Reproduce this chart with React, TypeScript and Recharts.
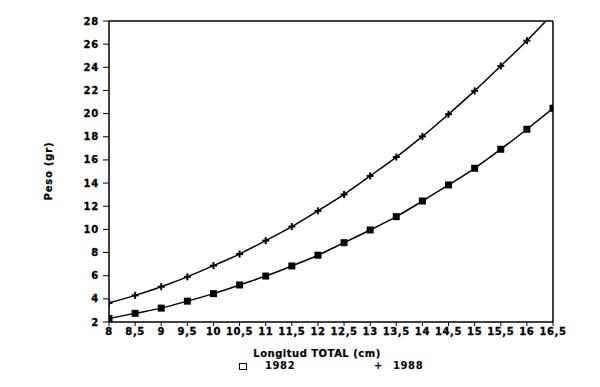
import React from 'react';
import { LineChart, Line, XAxis, YAxis, ReferenceLine } from 'recharts';

const longitudes = [8, 8.5, 9, 9.5, 10, 10.5, 11, 11.5, 12, 12.5, 13, 13.5, 14, 14.5, 15, 15.5, 16, 16.5];
const peso1982 = [2.3, 2.75, 3.2, 3.8, 4.45, 5.2, 5.97, 6.84, 7.77, 8.85, 9.95, 11.1, 12.45, 13.84, 15.28, 16.92, 18.65, 20.46];
const peso1988 = [3.65, 4.3, 5.05, 5.9, 6.87, 7.87, 9.03, 10.24, 11.6, 13.02, 14.62, 16.25, 18.03, 19.95, 21.96, 24.12, 26.3, 28.65];
const yTicks = [2, 4, 6, 8, 10, 12, 14, 16, 18, 20, 22, 24, 26, 28];
const xTicks = longitudes;
const seriesNames = ['1982', '1988'];

const data = longitudes.map((x, i) => ({ x, a: peso1982[i], b: peso1988[i] }));

const FONT = '"DejaVu Sans", sans-serif';
const fmt = (v: number) => String(v).replace('.', ',');

const SquareDot = (props: any) => {
  const { cx, cy } = props;
  if (cx == null || cy == null) return null;
  return <rect x={cx - 3.5} y={cy - 3.5} width={7} height={7} fill="#000" />;
};

const PlusDot = (props: any) => {
  const { cx, cy } = props;
  if (cx == null || cy == null) return null;
  return (
    <g>
      <line x1={cx - 3.5} y1={cy} x2={cx + 3.5} y2={cy} stroke="#000" strokeWidth={2} />
      <line x1={cx} y1={cy - 3.5} x2={cx} y2={cy + 3.5} stroke="#000" strokeWidth={2} />
    </g>
  );
};

const XTick = (props: any) => {
  const { x, y, payload } = props;
  return (
    <text x={x} y={y} dy="0.71em" textAnchor="middle" fontFamily={FONT} fontWeight="bold" fontSize={10} letterSpacing={0.6} fill="#000" stroke="#000" strokeWidth={0.3}>
      {fmt(payload.value)}
    </text>
  );
};

const YTick = (props: any) => {
  const { x, y, payload } = props;
  return (
    <text x={x} y={y} dy="0.355em" textAnchor="end" fontFamily={FONT} fontWeight="bold" fontSize={10} letterSpacing={0.8} fill="#000" stroke="#000" strokeWidth={0.3}>
      {payload.value}
    </text>
  );
};

export default function App() {
  return (
    <div style={{ position: 'absolute', left: 0, top: 0, width: 600, height: 387, background: '#fff' }}>
      <LineChart width={600} height={387} data={data} margin={{ top: 21, right: 47, bottom: 39, left: 0 }}>
        <XAxis
          dataKey="x"
          type="number"
          domain={[8, 16.5]}
          ticks={xTicks}
          interval={0}
          tickSize={4}
          tickMargin={2}
          height={26}
          tick={<XTick />}
          axisLine={{ stroke: '#000', strokeWidth: 1.5 }}
          tickLine={{ stroke: '#000', strokeWidth: 1 }}
          allowDataOverflow
          label={{
            content: () => (
              <text x={317} y={357} textAnchor="middle" fontFamily={FONT} fontWeight="bold" fontSize={10} letterSpacing={0.5} fill="#000" stroke="#000" strokeWidth={0.2}>
                Longitud TOTAL (cm)
              </text>
            ),
          }}
        />
        <YAxis
          type="number"
          domain={[2, 28]}
          ticks={yTicks}
          interval={0}
          width={109}
          tickSize={6}
          tickMargin={4}
          tick={<YTick />}
          axisLine={{ stroke: '#000', strokeWidth: 1.5 }}
          tickLine={{ stroke: '#000', strokeWidth: 1 }}
          allowDataOverflow
          label={{
            content: () => (
              <text x={52} y={171} transform="rotate(-90 52 171)" textAnchor="middle" fontFamily={FONT} fontWeight="bold" fontSize={10} letterSpacing={0.8} fill="#000" stroke="#000" strokeWidth={0.2}>
                Peso (gr)
              </text>
            ),
          }}
        />
        <ReferenceLine y={28} stroke="#000" strokeWidth={1.5} />
        <ReferenceLine x={16.5} stroke="#000" strokeWidth={1.5} />
        <Line
          name={seriesNames[0]}
          dataKey="a"
          type="monotone"
          stroke="#000"
          strokeWidth={1.5}
          dot={<SquareDot />}
          isAnimationActive={false}
        />
        <Line
          name={seriesNames[1]}
          dataKey="b"
          type="monotone"
          stroke="#000"
          strokeWidth={1.5}
          dot={<PlusDot />}
          isAnimationActive={false}
        />
      </LineChart>
      <div style={{ position: 'absolute', left: 239, top: 360, fontFamily: FONT, fontWeight: 'bold', fontSize: 10, letterSpacing: 0.6, lineHeight: '12px', color: '#000', whiteSpace: 'nowrap' }}>
        <span style={{ display: 'inline-block', width: 6, height: 5, border: '1.5px solid #000', marginRight: 18, verticalAlign: 'middle' }} />
        <span>{seriesNames[0]}</span>
      </div>
      <div style={{ position: 'absolute', left: 374, top: 360, fontFamily: FONT, fontWeight: 'bold', fontSize: 10, letterSpacing: 0.6, lineHeight: '12px', color: '#000', whiteSpace: 'nowrap' }}>
        <span style={{ marginRight: 10 }}>+</span>
        <span>{seriesNames[1]}</span>
      </div>
    </div>
  );
}
